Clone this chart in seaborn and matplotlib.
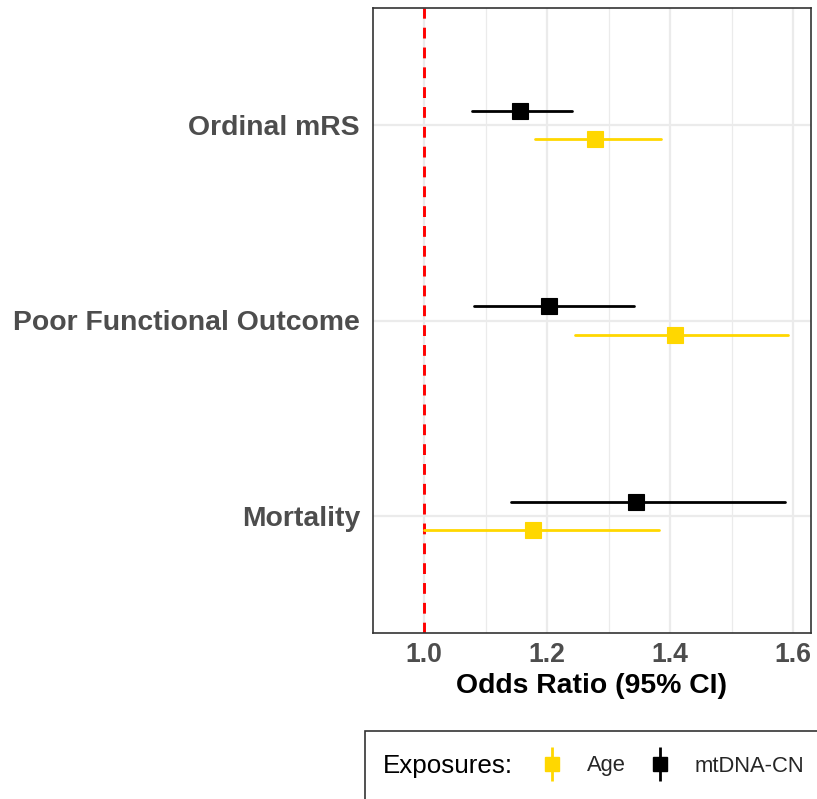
import numpy as np
import pandas as pd
import seaborn as sns
import matplotlib.pyplot as plt
from matplotlib.lines import Line2D
from matplotlib.patches import Rectangle

# Outcomes (top to bottom) and odds ratios with 95% CI per exposure
outcomes = ["Ordinal mRS", "Poor Functional Outcome", "Mortality"]
exposures = ["Age", "mtDNA-CN"]

or_age = [1.278, 1.408, 1.177]
lo_age = [1.180, 1.246, 1.000]
hi_age = [1.385, 1.592, 1.382]

or_mtdna = [1.156, 1.203, 1.345]
lo_mtdna = [1.078, 1.081, 1.141]
hi_mtdna = [1.241, 1.341, 1.587]

colors = {"Age": "#FFD700", "mtDNA-CN": "#000000"}

# Long table: each estimate is stored together with its CI bounds, so that
# the median gives the point and the full range gives the interval.
rows = []
for name, est, lo, hi in [("Age", or_age, lo_age, hi_age),
                          ("mtDNA-CN", or_mtdna, lo_mtdna, hi_mtdna)]:
    for o, e, l, h in zip(outcomes, est, lo, hi):
        for v in (l, e, h):
            rows.append({"outcome": o, "exposure": name, "value": v})
df = pd.DataFrame(rows)

sns.set_theme(style="white")
plt.rcParams["font.family"] = ["Liberation Sans", "DejaVu Sans"]

W, H = 817, 799
fig = plt.figure(figsize=(W / 100, H / 100), dpi=100)
ax = fig.add_axes([373 / W, 1 - 633 / H, 438 / W, 625 / H])

sns.pointplot(
    data=df, x="value", y="outcome", hue="exposure",
    order=outcomes, hue_order=["mtDNA-CN", "Age"], palette=colors,
    estimator="median", errorbar=("pi", 100),
    dodge=0.145, linestyle="none", markers="s", markersize=11.5,
    markeredgewidth=0.8, err_kws={"linewidth": 2.0}, capsize=0,
    orient="h", legend=False, ax=ax, zorder=3,
)

ax.axvline(1.0, color="red", lw=2.1, ls=(0, (3.7, 3.1)), zorder=2)

ax.set_xlim(0.917, 1.629)
ax.set_ylim(2.6, -0.6)
ax.set_xticks([1.0, 1.2, 1.4, 1.6])
ax.set_xticklabels(["1.0", "1.2", "1.4", "1.6"])
ax.set_xticks([1.1, 1.3, 1.5], minor=True)

ax.set_axisbelow(True)
ax.grid(which="major", color="#EBEBEB", lw=1.6)
ax.grid(which="minor", axis="x", color="#EBEBEB", lw=0.9)

for s in ax.spines.values():
    s.set_color("#333333")
    s.set_linewidth(1.2)

ax.tick_params(axis="both", which="major", length=4.3, width=1.3,
               color="#333333", labelcolor="#4D4D4D")
ax.tick_params(axis="x", pad=2)
ax.tick_params(axis="y", pad=5)
ax.tick_params(axis="both", which="minor", length=0)
ax.tick_params(axis="x", labelsize=19.2)
ax.tick_params(axis="y", labelsize=20.4)
for t in ax.get_xticklabels() + ax.get_yticklabels():
    t.set_fontweight("bold")

ax.set_ylabel("")
ax.set_xlabel("Odds Ratio (95% CI)", fontsize=20.4, fontweight="bold",
              color="black", labelpad=4)

# Legend strip at the bottom
fig.add_artist(Rectangle((365 / W, -0.02), 1.0, (H - 731) / H + 0.02,
                         transform=fig.transFigure, fill=False,
                         ec="#333333", lw=1.2))
fig.text(383 / W, 1 - 766 / H, "Exposures:", fontsize=18.7,
         va="center", ha="left", color="black")

handles = []
for name in exposures:
    c = colors[name]
    bar = Line2D([], [], color=c, marker="|", markersize=24,
                 markeredgewidth=2.0, ls="none")
    sq = Line2D([], [], color=c, marker="s", markersize=10.5, ls="none")
    handles.append((bar, sq))

fig.legend(handles, exposures, loc="center left",
           bbox_to_anchor=(541 / W, 1 - 766 / H), ncol=2, frameon=False,
           fontsize=15.8, handlelength=1.0, handletextpad=1.08,
           columnspacing=1.05, borderpad=0, borderaxespad=0)

fig.savefig("out.png", dpi=100)
